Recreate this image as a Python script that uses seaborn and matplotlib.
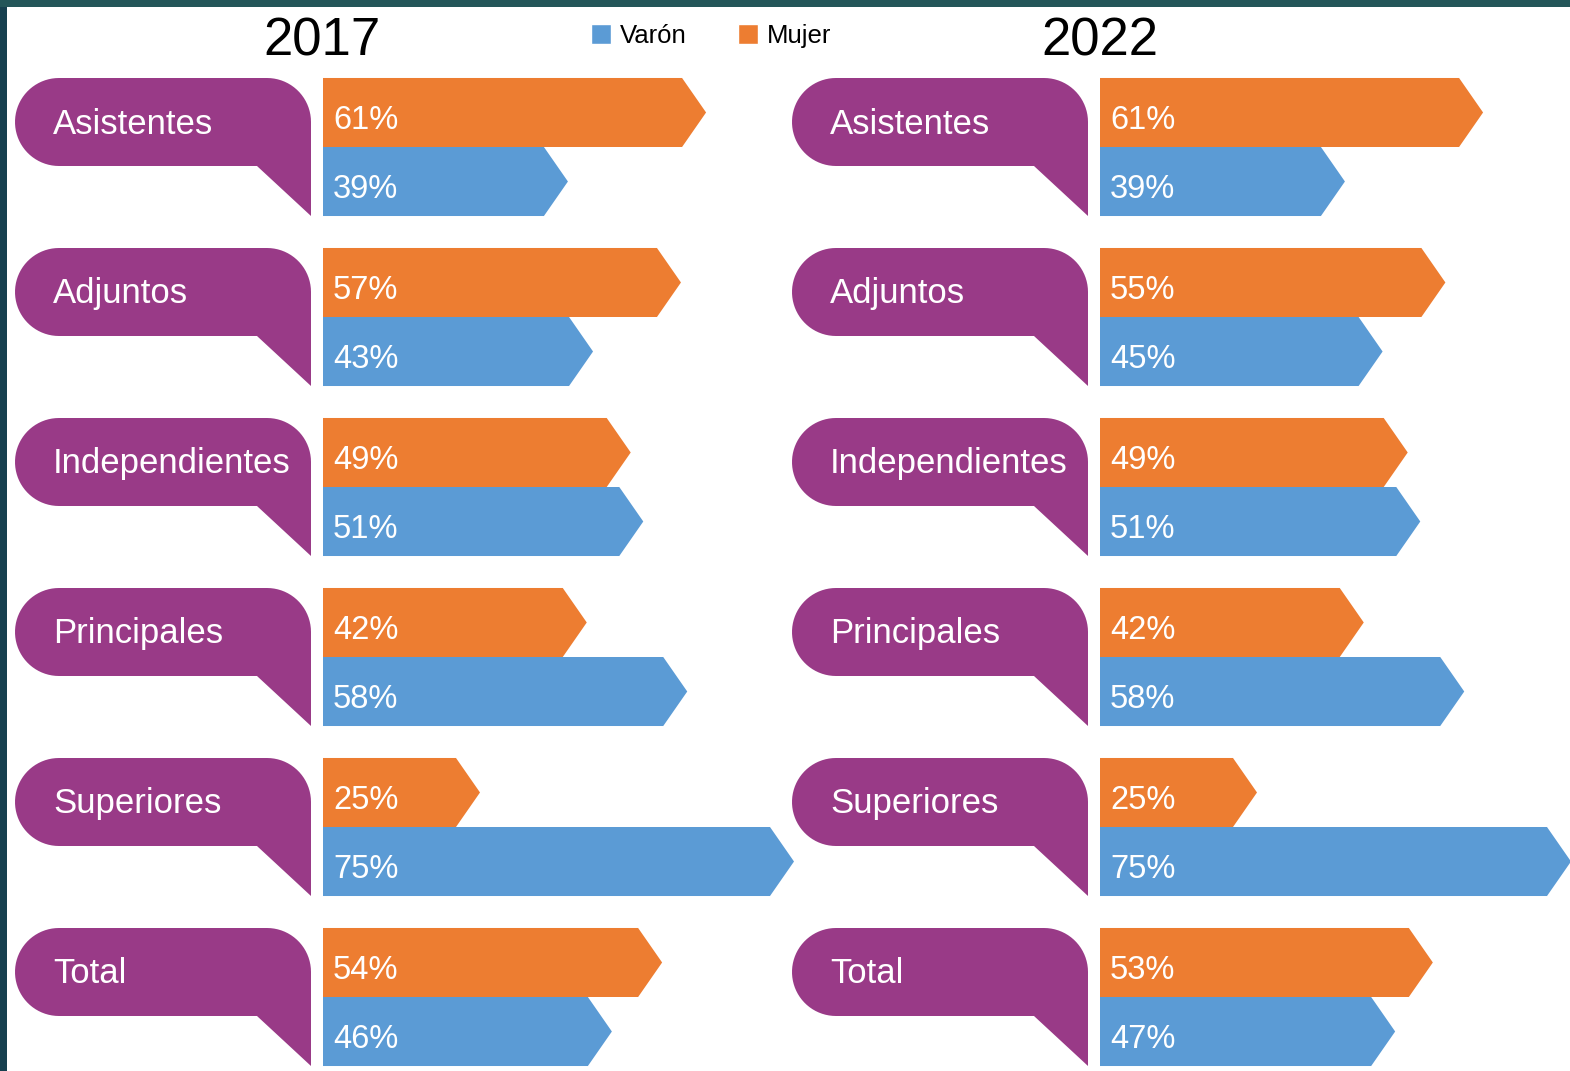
import numpy as np
import pandas as pd
import matplotlib
matplotlib.use("Agg")
import matplotlib.pyplot as plt
from matplotlib.patches import Polygon, Patch, Rectangle
import seaborn as sns

# ---------------- datos ----------------
categorias = ['Asistentes', 'Adjuntos', 'Independientes', 'Principales', 'Superiores', 'Total']
anios = ['2017', '2022']
mujer_2017 = [61, 57, 49, 42, 25, 54]
varon_2017 = [39, 43, 51, 58, 75, 46]
mujer_2022 = [61, 55, 49, 42, 25, 53]
varon_2022 = [39, 45, 51, 58, 75, 47]

# ---------------- estilo ----------------
c_mujer = '#ED7D31'
c_varon = '#5B9BD5'
c_morado = '#993A87'

sns.set_style('white')
plt.rcParams['font.family'] = ['Liberation Sans', 'DejaVu Sans']
plt.rcParams['text.color'] = 'black'

W, H = 1570, 1071
fig = plt.figure(figsize=(W / 100, H / 100), dpi=100)
fig.patch.set_facecolor('white')

# escala: 6.28 px por punto porcentual, 170 px por fila
SX = 6.28
SY = 170.0
fila0 = 147          # centro de la primera fila (px desde arriba)
origen = [323, 1100]  # x del inicio de barras en cada panel (px)


def hacer_panel(ax, mujer, varon, x0px):
    df = pd.DataFrame({
        'categoria': categorias * 2,
        'sexo': ['Mujer'] * len(categorias) + ['Varón'] * len(categorias),
        'pct': mujer + varon,
    })
    sns.barplot(data=df, y='categoria', x='pct', hue='sexo',
                hue_order=['Mujer', 'Varón'],
                palette={'Mujer': c_mujer, 'Varón': c_varon},
                orient='y', width=0.812, saturation=1, legend=False, ax=ax)

    # limites para que 0% caiga en x0px
    ax_left = ax.get_position().x0 * W
    ax_w = ax.get_position().width * W
    ax.set_xlim(-(x0px - ax_left) / SX, (ax_left + ax_w - x0px) / SX)
    ax.set_ylim((H - fila0) / SY, -fila0 / SY)
    ax.axis('off')

    # barras en forma de flecha
    punta = 24 / SX
    for p in list(ax.patches):
        x, y, w, h = p.get_x(), p.get_y(), p.get_width(), p.get_height()
        p.set_visible(False)
        pts = [(x, y), (x + w - punta, y), (x + w, y + h / 2),
               (x + w - punta, y + h), (x, y + h)]
        ax.add_patch(Polygon(pts, closed=True, facecolor=p.get_facecolor(),
                             edgecolor='none', clip_on=False, zorder=3))
        ax.text(x + 10 / SX, y + h / 2 + 8 / SY, f'{w:.0f}%', color='white',
                fontsize=23.5, va='center', ha='left', zorder=4)

    # globos de categoria
    L, R = -308, -12
    r = 44
    for i, cat in enumerate(categorias):
        T, B, cola = -69, 19, 69
        pts = [(L + r, T), (R - r, T)]
        for t in np.linspace(90, 0, 20):
            a = np.radians(t)
            pts.append((R - r + r * np.cos(a), T + r - r * np.sin(a)))
        pts += [(R, cola), (R - 54, B), (L + r, B)]
        for t in np.linspace(270, 90, 40):
            a = np.radians(t)
            pts.append((L + r + r * np.cos(a), T + r - r * np.sin(a)))
        data_pts = [(px / SX, i + py / SY) for px, py in pts]
        ax.add_patch(Polygon(data_pts, closed=True, facecolor=c_morado,
                             edgecolor='none', clip_on=False, zorder=3))
        ax.text((L + 38) / SX, i + (T + 46) / SY, cat, color='white',
                fontsize=25, va='center', ha='left', zorder=4)


ax1 = fig.add_axes([0, 0, 0.5, 1])
ax2 = fig.add_axes([0.5, 0, 0.5, 1])
ax1.patch.set_alpha(0)
ax2.patch.set_alpha(0)
hacer_panel(ax1, mujer_2017, varon_2017, origen[0])
hacer_panel(ax2, mujer_2022, varon_2022, origen[1])

# titulos de año
fig.text(322 / W, 1 - 42 / H, anios[0], fontsize=38, ha='center', va='center', color='black')
fig.text(1100 / W, 1 - 42 / H, anios[1], fontsize=38, ha='center', va='center', color='black')

# leyenda
handles = [Patch(facecolor=c_varon, label='Varón'),
           Patch(facecolor=c_mujer, label='Mujer')]
leg = fig.legend(handles=handles, ncol=2, frameon=False, fontsize=18.5,
                 loc='center', bbox_to_anchor=(711 / W, 1 - 36 / H),
                 handlelength=0.78, handleheight=0.78, handletextpad=0.35,
                 columnspacing=2.0)
for t in leg.get_texts():
    t.set_color('black')

# marco oscuro (arriba e izquierda)
fig.patches.append(Rectangle((0, 0), 7 / W, 1, transform=fig.transFigure,
                             facecolor='#17404f', edgecolor='none', zorder=10))
fig.patches.append(Rectangle((0, 1 - 7 / H), 1, 7 / H, transform=fig.transFigure,
                             facecolor='#245659', edgecolor='none', zorder=10))

plt.savefig('out.png', dpi=100)
